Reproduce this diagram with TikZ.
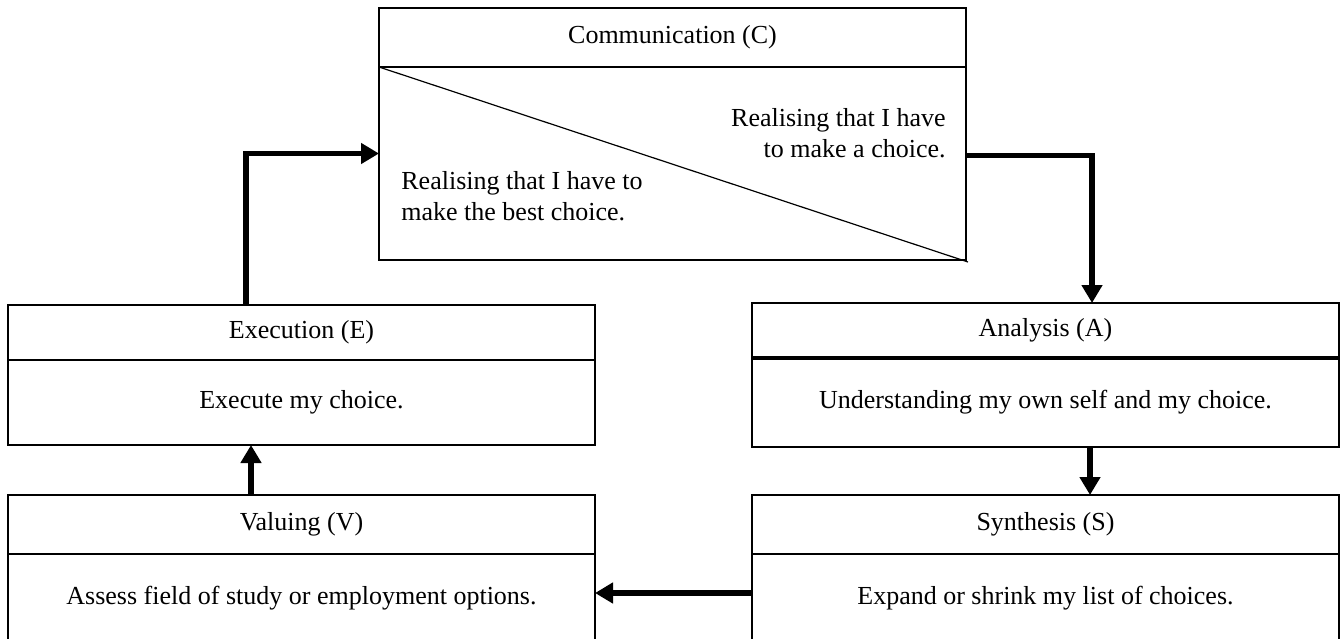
\documentclass[tikz,border=0pt]{standalone}
\usepackage{fontspec}
\setmainfont{Liberation Serif}
\usetikzlibrary{arrows.meta,positioning,calc}
\tikzset{
    stagehead/.style={
        draw,line width=1pt,outer sep=0pt,inner sep=0pt,
        minimum width=293.5pt,minimum height=#1,anchor=north west
    },
    stagehead/.default=28pt,
    stagebody/.style={
        draw,line width=1pt,outer sep=0pt,inner sep=0pt,
        minimum width=293.5pt,minimum height=#1,align=center
    },
    stagebody/.default=44pt,
    flowarrow/.style={
        -{Triangle[length=9pt,width=10pt]},line width=2.6pt
    }
}
\begin{document}
\begin{tikzpicture}[x=0.5pt,y=-0.5pt,font=\fontsize{13}{15.5}\selectfont]
\useasboundingbox (0,0) rectangle (1343,638);

\node[stagehead=29.5pt] (chead) at (379,8) {Communication (C)};
\node[stagebody=96.5pt,below=0pt of chead] (cbody) {};
\draw[line width=0.6pt] (cbody.north west) -- ($(cbody.south east)+(1pt,-1pt)$);
\node[anchor=east,align=right,inner sep=0pt]
(cmake) at (946,133) {Realising that I have\\to make a choice.};
\node[anchor=west,align=left,inner sep=0pt]
(cbest) at (401,196) {Realising that I have to\\make the best choice.};

\node[stagehead=27.5pt] (ehead) at (8,305) {Execution (E)};
\node[stagebody=42.5pt,below=0pt of ehead] (ebody) {Execute my choice.};

\node[stagehead=29.5pt] (vhead) at (8,495) {Valuing (V)};
\node[stagebody=44pt,below=0pt of vhead] (vbody) {Assess field of study or employment options.};

\node[stagehead=27.5pt] (ahead) at (752,303) {Analysis (A)};
\node[stagebody=44.5pt,below=0pt of ahead] (abody) {Understanding my own self and my choice.};
\draw[line width=1.6pt] (abody.north west) -- (abody.north east);

\node[stagehead=29.5pt] (shead) at (752,495) {Synthesis (S)};
\node[stagebody=44pt,below=0pt of shead] (sbody) {Expand or shrink my list of choices.};

\draw[flowarrow] ($(ehead.north west)+(119pt,0)$) |- ($(cbody.west)+(0,5pt)$);
\draw[flowarrow] ($(cbody.east)+(0,4pt)$) -| ($(ahead.north west)+(170pt,0)$);
\draw[flowarrow] ($(abody.south west)+(169pt,0)$) -- ($(shead.north west)+(169pt,0)$);
\draw[flowarrow] ($(sbody.west)+(0,2.5pt)$) -- ($(vbody.east)+(0,2.5pt)$);
\draw[flowarrow] ($(vhead.north west)+(121.5pt,0)$) -- ($(ebody.south west)+(121.5pt,0)$);

\end{tikzpicture}
\end{document}
